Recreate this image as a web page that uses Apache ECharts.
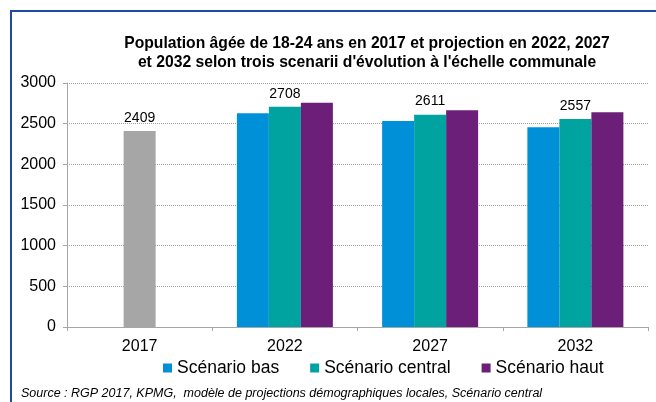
<!DOCTYPE html>
<html>
<head>
<meta charset="utf-8">
<script src="https://cdn.jsdelivr.net/npm/echarts@6/dist/echarts.min.js"></script>
<style>
  html, body { margin: 0; padding: 0; background: #fff; }
  #chart { width: 656px; height: 402px; }
</style>
</head>
<body>
<div id="chart"></div>
<script>
var years = ['2017', '2022', '2027', '2032'];
var actual2017 = [2409, '-', '-', '-'];
var scenarioBas = ['-', 2627, 2532, 2455];
var scenarioCentral = ['-', 2708, 2611, 2557];
var scenarioHaut = ['-', 2758, 2664, 2639];
var yTicks = [0, 500, 1000, 1500, 2000, 2500, 3000];

var font = 'Liberation Sans, Arial, sans-serif';
var chart = echarts.init(document.getElementById('chart'));

chart.setOption({
  animation: false,
  textStyle: { fontFamily: font },
  title: {
    text: 'Population âgée de 18-24 ans en 2017 et projection en 2022, 2027\net 2032 selon trois scenarii d\'évolution à l\'échelle communale',
    left: 362,
    top: 29,
    textAlign: 'center',
    textStyle: { fontSize: 15.7, fontWeight: 'bold', color: '#000', lineHeight: 19, fontFamily: font }
  },
  graphic: [
    {
      type: 'rect',
      shape: { x: 11, y: 11, width: 700, height: 500 },
      style: { fill: 'none', stroke: '#1f4aa0', lineWidth: 2 },
      silent: true
    },
    {
      type: 'text',
      left: 21,
      top: 387,
      style: {
        text: 'Source : RGP 2017, KPMG,  modèle de projections démographiques locales, Scénario central',
        font: 'italic 12.5px ' + font,
        fill: '#000'
      }
    }
  ],
  legend: {
    data: ['Scénario bas', 'Scénario central', 'Scénario haut'],
    top: 359,
    left: 163,
    padding: 0,
    itemWidth: 9,
    itemHeight: 9,
    itemGap: 31,
    icon: 'rect',
    textStyle: { fontSize: 17.5, color: '#000', fontFamily: font }
  },
  grid: { left: 67, right: 8, top: 83, bottom: 75 },
  xAxis: {
    type: 'category',
    data: years,
    axisLine: { lineStyle: { color: '#a6a6a6' } },
    axisTick: { show: true, length: 4, lineStyle: { color: '#a6a6a6' } },
    axisLabel: { fontSize: 16, color: '#000', margin: 12 }
  },
  yAxis: {
    type: 'value',
    min: yTicks[0],
    max: yTicks[yTicks.length - 1],
    interval: 500,
    axisLine: { show: true, lineStyle: { color: '#a6a6a6' } },
    axisTick: { show: true, length: 4, lineStyle: { color: '#a6a6a6' } },
    axisLabel: { fontSize: 16, color: '#000', margin: 11, formatter: function (v) { return String(v); } },
    splitLine: { lineStyle: { color: '#a0a0a0', type: [1, 1], width: 1 } }
  },
  series: [
    {
      name: 'Scénario bas',
      type: 'bar',
      barWidth: 32,
      barGap: '0%',
      itemStyle: { color: '#0090d8' },
      data: scenarioBas
    },
    {
      name: 'Scénario central',
      type: 'bar',
      stack: 'mid',
      barWidth: 32,
      barGap: '0%',
      itemStyle: { color: '#00a39f' },
      label: { show: true, position: 'top', distance: 6, fontSize: 14, color: '#000' },
      data: scenarioCentral
    },
    {
      name: '2017',
      type: 'bar',
      stack: 'mid',
      barWidth: 32,
      barGap: '0%',
      itemStyle: { color: '#a6a6a6' },
      label: { show: true, position: 'top', distance: 6, fontSize: 14, color: '#000' },
      data: actual2017
    },
    {
      name: 'Scénario haut',
      type: 'bar',
      barWidth: 32,
      barGap: '0%',
      itemStyle: { color: '#6c1f78' },
      data: scenarioHaut
    }
  ]
});
</script>
</body>
</html>
